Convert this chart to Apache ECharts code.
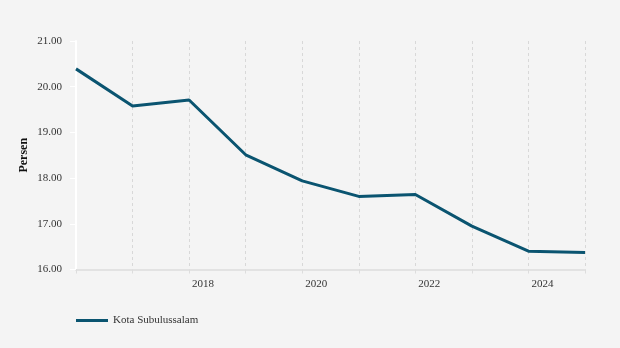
<!DOCTYPE html>
<html>
<head>
<meta charset="utf-8">
<script src="https://cdn.jsdelivr.net/npm/echarts@6/dist/echarts.min.js"></script>
<style>
  html, body { margin: 0; padding: 0; background: #f4f4f4; }
  #chart { width: 620px; height: 348px; }
</style>
</head>
<body>
<div id="chart"></div>
<script>
// Years along the x axis
const years = ['2016', '2017', '2018', '2019', '2020', '2021', '2022', '2023', '2024', '2025'];
// Years that carry a label under the axis
const labelledYears = ['2018', '2020', '2022', '2024'];
// Percentage values for Kota Subulussalam
const persenSubulussalam = [20.39, 19.58, 19.71, 18.51, 17.94, 17.60, 17.64, 16.95, 16.40, 16.37];
// Y axis range
const yMin = 16;
const yMax = 21;
const yStep = 1;

const fontFamily = '"Liberation Serif", "DejaVu Serif", serif';

const chart = echarts.init(document.getElementById('chart'), null, { renderer: 'canvas' });
chart.setOption({
  backgroundColor: '#f4f4f4',
  animation: false,
  textStyle: { fontFamily: fontFamily },
  grid: { left: 76, right: 35, top: 41, bottom: 78.5, containLabel: false },
  legend: {
    left: 71,
    bottom: 17,
    itemWidth: 32,
    itemHeight: 3,
    icon: 'rect',
    textStyle: { fontFamily: fontFamily, fontSize: 11, color: '#333' },
    data: ['Kota Subulussalam']
  },
  xAxis: {
    type: 'category',
    boundaryGap: false,
    data: years,
    axisLine: { show: true, lineStyle: { color: '#e2e2e2', width: 2 } },
    axisTick: { show: true, interval: 0, length: 4, lineStyle: { color: '#dddddd', type: 'dashed' } },
    axisLabel: {
      interval: function (index, value) { return labelledYears.indexOf(value) !== -1; },
      align: 'left',
      padding: [0, 0, 0, 3],
      margin: 9,
      fontFamily: fontFamily,
      fontSize: 11,
      color: '#333'
    },
    splitLine: { show: true, interval: 0, lineStyle: { color: '#d8d8d8', type: [3, 3], width: 1 } }
  },
  yAxis: {
    type: 'value',
    min: yMin,
    max: yMax,
    interval: yStep,
    name: 'Persen',
    nameLocation: 'middle',
    nameGap: 46,
    nameMoveOverlap: false,
    nameTextStyle: { fontFamily: fontFamily, fontSize: 12, fontWeight: 'bold', color: '#111' },
    axisLine: { show: true, lineStyle: { color: '#ffffff', width: 2 } },
    axisTick: { show: true, length: 6, lineStyle: { color: '#ffffff', width: 1 } },
    axisLabel: {
      margin: 14,
      fontFamily: fontFamily,
      fontSize: 11,
      color: '#333',
      formatter: function (v) { return v.toFixed(2); }
    },
    splitLine: { show: false }
  },
  series: [{
    name: 'Kota Subulussalam',
    type: 'line',
    data: persenSubulussalam,
    symbol: 'none',
    lineStyle: { color: '#0a5470', width: 3 },
    itemStyle: { color: '#0a5470' }
  }]
});
</script>
</body>
</html>
